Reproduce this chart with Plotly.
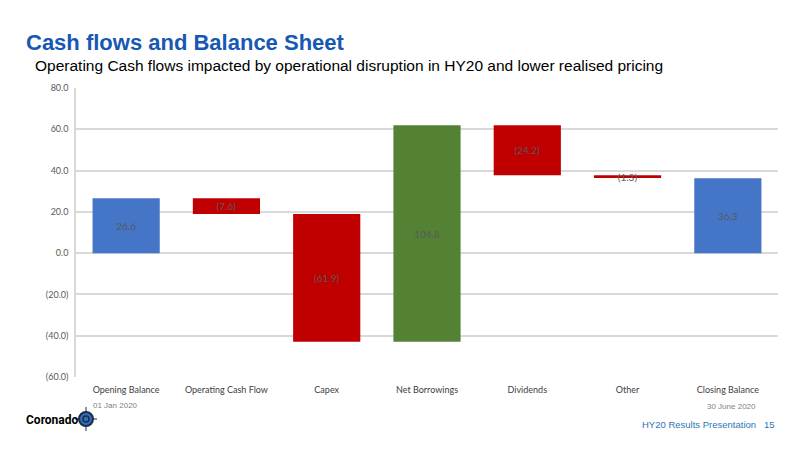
import plotly.graph_objects as go

categories = ["Opening Balance", "Operating Cash Flow", "Capex", "Net Borrowings",
              "Dividends", "Other", "Closing Balance"]
values = [26.6, -7.6, -61.9, 104.8, -24.2, -1.3, 36.3]
measures = ["absolute", "relative", "relative", "relative", "relative", "relative", "absolute"]
labels = ["26.6", "(7.6)", "(61.9)", "104.8", "(24.2)", "(1.3)", "36.3"]
tick_vals = [80, 60, 40, 20, 0, -20, -40, -60]
tick_text = ["80.0", "60.0", "40.0", "20.0", "0.0", "(20.0)", "(40.0)", "(60.0)"]

W, H = 800, 450
L, R, T, B = 76, 22, 88, 73
PW, PH = W - L - R, H - T - B

def px(x):
    return (x - L) / PW

def py(y):
    return (H - B - y) / PH

fig = go.Figure()
fig.add_trace(go.Waterfall(
    x=categories, y=values, measure=measures,
    text=labels, textposition="inside", insidetextanchor="middle",
    textfont=dict(family="Lato, Open Sans, sans-serif", size=10, color="#595959"),
    increasing=dict(marker=dict(color="#548235")),
    decreasing=dict(marker=dict(color="#C00000")),
    totals=dict(marker=dict(color="#4575C6")),
    connector=dict(visible=False),
    constraintext="none",
    hoverinfo="x+y",
))

fig.update_layout(
    width=W, height=H,
    margin=dict(l=L, r=R, t=T, b=B),
    paper_bgcolor="white", plot_bgcolor="white",
    showlegend=False,
    waterfallgap=0.33,
    uniformtext=dict(minsize=10, mode="show"),
    font=dict(family="Lato, Open Sans, sans-serif", color="#404040"),
    xaxis=dict(showgrid=False, showline=False, ticks="", ticklabelstandoff=6,
               tickfont=dict(size=9, color="#404040"), fixedrange=True),
    yaxis=dict(range=[-60, 80], tickvals=tick_vals, ticktext=tick_text,
               showgrid=True, gridcolor="#D9D9D9", gridwidth=1.5,
               showline=True, linecolor="#D9D9D9", linewidth=1.5,
               zeroline=False, ticks="", ticklabelstandoff=4,
               tickfont=dict(size=9, color="#595959"), fixedrange=True),
)

ann = [
    dict(text="<b>Cash flows and Balance Sheet</b>", x=px(24), y=py(42), xanchor="left", yanchor="middle",
         font=dict(family="Liberation Sans, Arial", size=22, color="#1758B4")),
    dict(text="Operating Cash flows impacted by operational disruption in HY20 and lower realised pricing",
         x=px(33), y=py(66), xanchor="left", yanchor="middle",
         font=dict(family="Liberation Sans, Arial", size=15.5, color="#000000")),
    dict(text="01 Jan 2020", x=px(91), y=py(405), xanchor="left", yanchor="middle",
         font=dict(family="Liberation Sans, Arial", size=8, color="#7F7F7F")),
    dict(text="30 June 2020", x=px(705), y=py(406), xanchor="left", yanchor="middle",
         font=dict(family="Liberation Sans, Arial", size=8, color="#7F7F7F")),
    dict(text="<b>Coronado</b>", x=px(24), y=py(420), xanchor="left", yanchor="middle",
         font=dict(family="Roboto, Liberation Sans", size=12, color="#000000")),
    dict(text="HY20 Results Presentation&nbsp;&nbsp;&nbsp;15", x=px(777), y=py(425), xanchor="right", yanchor="middle",
         font=dict(family="Liberation Sans, Arial", size=9.5, color="#2E75B6")),
]
for a in ann:
    a.update(xref="paper", yref="paper", showarrow=False)
fig.update_layout(annotations=ann)

# logo compass
cx, cy, r = 86, 419, 7
shapes = [
    dict(type="line", x0=px(cx), x1=px(cx), y0=py(cy - 12), y1=py(cy + 12), line=dict(color="#1F2A44", width=1)),
    dict(type="line", x0=px(cx - 11), x1=px(cx + 11), y0=py(cy), y1=py(cy), line=dict(color="#1F2A44", width=1)),
    dict(type="circle", x0=px(cx - r), x1=px(cx + r), y0=py(cy - r), y1=py(cy + r),
         line=dict(color="#1F2A44", width=2), fillcolor="#2E6FC0"),
    dict(type="circle", x0=px(cx - 3), x1=px(cx + 3), y0=py(cy - 3), y1=py(cy + 3),
         line=dict(color="#1F2A44", width=1.5), fillcolor="#2E6FC0"),
]
for s in shapes:
    s.update(xref="paper", yref="paper")
fig.update_layout(shapes=shapes)

fig.write_html("out.html", config={"displayModeBar": False},
               post_script="document.body.style.margin='0';document.body.style.padding='0';")
